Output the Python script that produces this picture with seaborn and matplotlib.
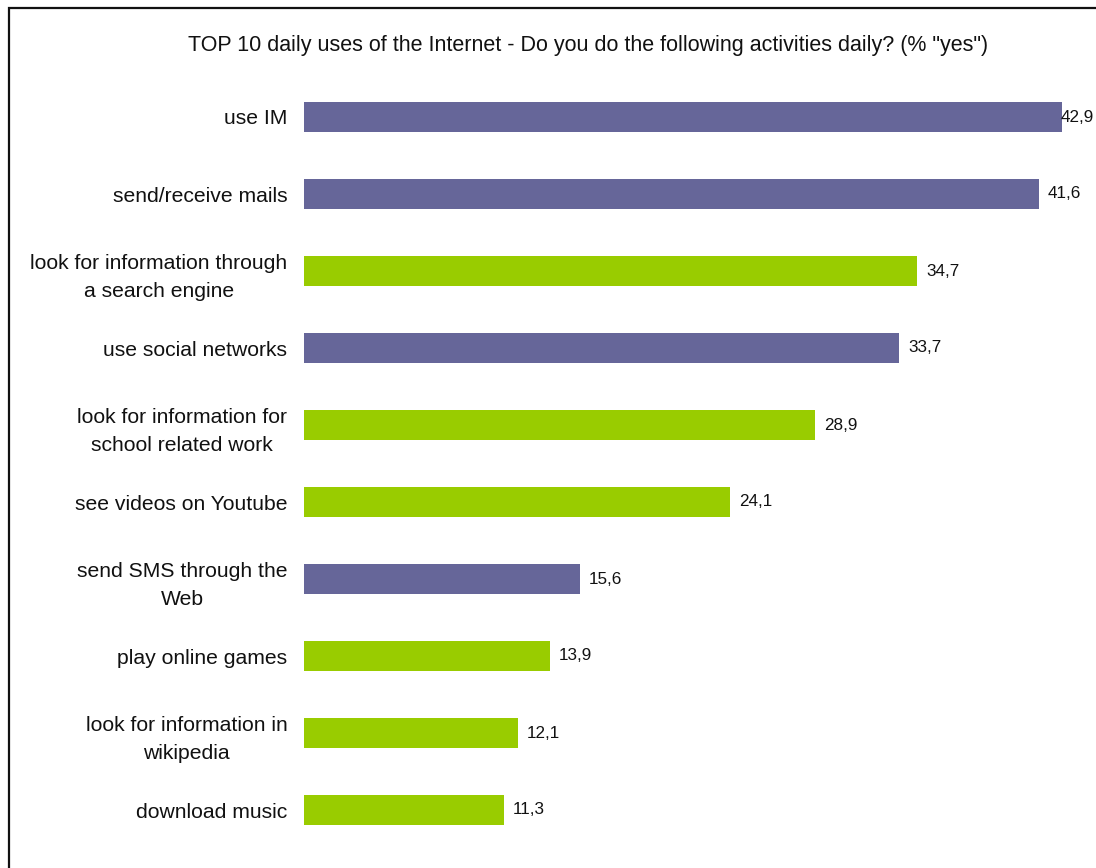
import matplotlib
matplotlib.use("Agg")
import matplotlib.pyplot as plt
import matplotlib.patches as mpatches
import seaborn as sns
import pandas as pd

categories = [
    "use IM",
    "send/receive mails",
    "look for information through\na search engine",
    "use social networks",
    "look for information for\nschool related work",
    "see videos on Youtube",
    "send SMS through the\nWeb",
    "play online games",
    "look for information in\nwikipedia",
    "download music",
]
values = [42.9, 41.6, 34.7, 33.7, 28.9, 24.1, 15.6, 13.9, 12.1, 11.3]
kinds = ["communication", "communication", "information", "communication",
         "information", "information", "communication", "information",
         "information", "information"]
value_labels = ["42,9", "41,6", "34,7", "33,7", "28,9", "24,1", "15,6", "13,9", "12,1", "11,3"]
title = 'TOP 10 daily uses of the Internet - Do you do the following activities daily? (% "yes")'

kind_colors = {"communication": "#666699", "information": "#99CC00"}

df = pd.DataFrame({"activity": categories, "pct": values, "kind": kinds})

sns.set_theme(style="white")
plt.rcParams["font.family"] = ["Liberation Sans", "DejaVu Sans"]

fig = plt.figure(figsize=(10.96, 8.68), dpi=100)
ax = fig.add_axes([304 / 1096, 1 - 848.5 / 868, 1 - 304 / 1096, (848.5 - 78.5) / 868])

sns.barplot(data=df, x="pct", y="activity", hue="kind", palette=kind_colors,
            orient="h", width=0.39, dodge=False, legend=False, ax=ax,
            saturation=1, linewidth=0)

xmax = 792 / 17.67
ax.set_xlim(0, xmax)
ax.set_ylim(9.5, -0.5)
ax.set_xlabel("")
ax.set_ylabel("")
ax.set_xticks([])
for s in ax.spines.values():
    s.set_visible(False)

ax.tick_params(axis="y", length=0, pad=12, labelsize=15.2, colors="#111111")
for t in ax.get_yticklabels():
    t.set_multialignment("center")
    t.set_linespacing(1.58)

pad = 9 / 17.67
limit = (1061 - 304) / 17.67
for i, (v, lab) in enumerate(zip(values, value_labels)):
    ax.text(min(v + pad, limit), i, lab, va="center", ha="left",
            fontsize=12.3, color="#111111", clip_on=False)

fig.text(588 / 1096, 1 - 45 / 868, title, ha="center", va="center",
         fontsize=15.5, color="#111111")

border = mpatches.Rectangle((8.5 / 1096, -0.1), 1.2, 1 - 8.5 / 868 + 0.1,
                            transform=fig.transFigure, fill=False,
                            edgecolor="#111111", linewidth=1.6, clip_on=False)
fig.patches.append(border)

fig.savefig("out.png", dpi=100)
